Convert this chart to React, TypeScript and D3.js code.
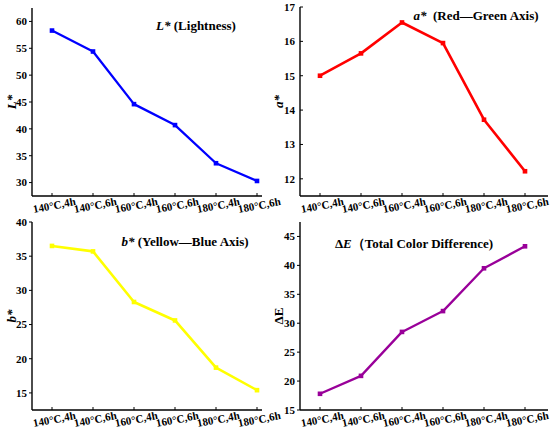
import React from "react";
import * as d3 from "d3";

const categories = ["140°C,4h", "140°C,6h", "160°C,4h", "160°C,6h", "180°C,4h", "180°C,6h"];

const lightness = [58.3, 54.4, 44.6, 40.7, 33.6, 30.3];
const redGreen = [15.0, 15.65, 16.55, 15.95, 13.72, 12.22];
const yellowBlue = [36.5, 35.7, 28.3, 25.6, 18.7, 15.4];
const deltaE = [17.8, 20.9, 28.5, 32.1, 39.5, 43.3];

const lTicks = [30, 35, 40, 45, 50, 55, 60];
const aTicks = [12, 13, 14, 15, 16, 17];
const bTicks = [15, 20, 25, 30, 35, 40];
const eTicks = [15, 20, 25, 30, 35, 40, 45];

const FONT = "'Liberation Serif', 'Times New Roman', serif";

interface PanelProps {
  values: number[];
  ticks: number[];
  domain: [number, number];
  color: string;
  strokeWidth: number;
  left: number;
  right: number;
  top: number;
  bottom: number;
  title: React.ReactNode;
  titleX: number;
  titleY: number;
  yLabel: React.ReactNode;
  yLabelX: number;
  tickIn?: boolean;
}

const Panel: React.FC<PanelProps> = ({
  values,
  ticks,
  domain,
  color,
  strokeWidth,
  left,
  right,
  top,
  bottom,
  title,
  titleX,
  titleY,
  yLabel,
  yLabelX,
  tickIn,
}) => {
  const x = d3
    .scalePoint<string>()
    .domain(categories)
    .range([left + 20, left + 225]);
  const y = d3.scaleLinear().domain(domain).range([bottom, top]);

  const pts = values.map((v, i) => [x(categories[i])!, y(v)] as [number, number]);
  const line = d3.line()(pts) || "";
  const tickLen = tickIn ? 3 : -3;

  return (
    <g>
      {/* axes */}
      <line x1={left} x2={left} y1={top} y2={bottom} stroke="#000" strokeWidth={1.4} />
      <line x1={left} x2={right} y1={bottom} y2={bottom} stroke="#000" strokeWidth={1.4} />
      {ticks.map((t) => (
        <g key={t}>
          <line x1={left} x2={left + tickLen} y1={y(t)} y2={y(t)} stroke="#000" strokeWidth={1} />
          <text
            x={left - 5}
            y={y(t)}
            dy="0.35em"
            textAnchor="end"
            fontSize={11}
            fontWeight="bold"
            fontFamily={FONT}
          >
            {t}
          </text>
        </g>
      ))}
      {categories.map((c) => (
        <g key={c}>
          <line x1={x(c)!} x2={x(c)!} y1={bottom} y2={bottom - 3} stroke="#000" strokeWidth={1} />
          <text
            transform={`translate(${x(c)! + 3},${bottom + 13}) rotate(-11)`}
            textAnchor="middle"
            fontSize={11}
            fontWeight="bold"
            fontFamily={FONT}
          >
            {c}
          </text>
        </g>
      ))}
      <path d={line} fill="none" stroke={color} strokeWidth={strokeWidth} strokeLinejoin="round" />
      {pts.map(([px, py], i) => (
        <rect key={i} x={px - 2.3} y={py - 2.3} width={4.6} height={4.6} fill={color} />
      ))}
      <text
        x={titleX}
        y={titleY}
        textAnchor="middle"
        fontSize={13}
        fontWeight="bold"
        fontFamily={FONT}
      >
        {title}
      </text>
      <text
        transform={`translate(${yLabelX},${(top + bottom) / 2}) rotate(-90)`}
        textAnchor="middle"
        fontSize={13}
        fontWeight="bold"
        fontFamily={FONT}
      >
        {yLabel}
      </text>
    </g>
  );
};

export default function App() {
  return (
    <div style={{ position: "absolute", left: 0, top: 0 }}>
      <svg width={550} height={434} style={{ display: "block", background: "#fff" }}>
        <Panel
          values={lightness}
          ticks={lTicks}
          domain={[27.5, 62.5]}
          color="#0000ff"
          strokeWidth={2.3}
          left={32}
          right={262}
          top={8}
          bottom={196}
          title={
            <>
              <tspan fontStyle="italic">L*</tspan> (Lightness)
            </>
          }
          titleX={196}
          titleY={30}
          yLabel={<tspan fontStyle="italic">L*</tspan>}
          yLabelX={16}
        />
        <Panel
          values={redGreen}
          ticks={aTicks}
          domain={[11.5, 17]}
          color="#ff0000"
          strokeWidth={2.6}
          left={300}
          right={548}
          top={7}
          bottom={196}
          title={
            <>
              <tspan fontStyle="italic">a*</tspan>{"\u00a0 (Red—Green Axis)"}
            </>
          }
          titleX={476}
          titleY={20}
          yLabel={<tspan fontStyle="italic">a*</tspan>}
          yLabelX={283}
          tickIn
        />
        <Panel
          values={yellowBlue}
          ticks={bTicks}
          domain={[12.5, 40]}
          color="#ffff00"
          strokeWidth={2.6}
          left={32}
          right={262}
          top={222}
          bottom={410}
          title={
            <>
              <tspan fontStyle="italic">b*</tspan> (Yellow—Blue Axis)
            </>
          }
          titleX={185}
          titleY={246}
          yLabel={<tspan fontStyle="italic">b*</tspan>}
          yLabelX={16}
        />
        <Panel
          values={deltaE}
          ticks={eTicks}
          domain={[15, 47.5]}
          color="#990099"
          strokeWidth={2.3}
          left={300}
          right={548}
          top={222}
          bottom={410}
          title={
            <>
              Δ<tspan fontStyle="italic">E</tspan>（Total Color Difference)
            </>
          }
          titleX={414}
          titleY={248}
          yLabel="ΔE"
          yLabelX={283}
        />
      </svg>
    </div>
  );
}
